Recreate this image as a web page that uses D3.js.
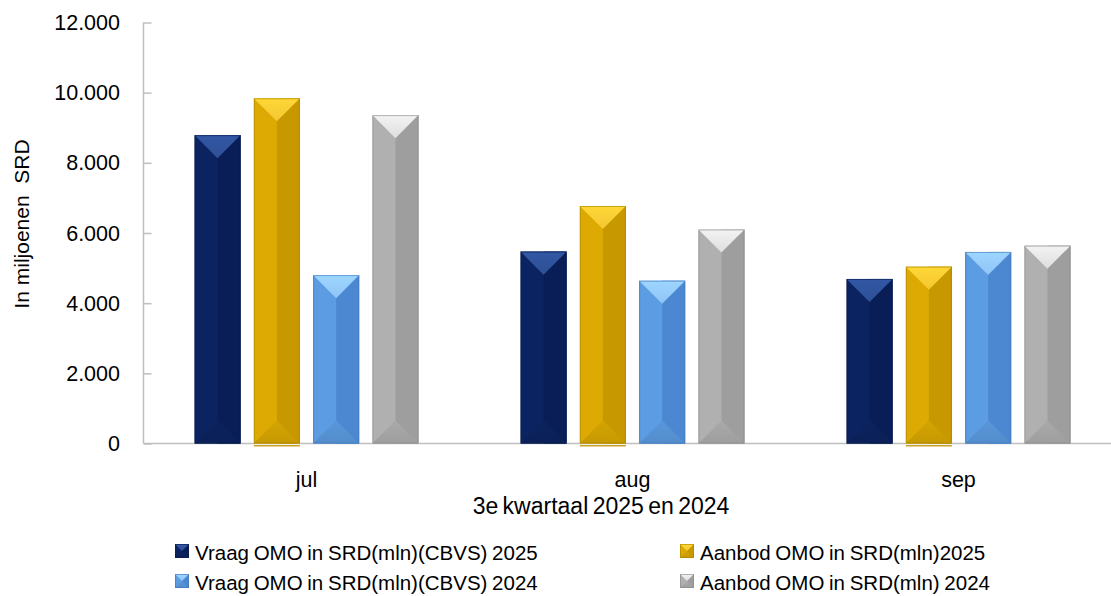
<!DOCTYPE html>
<html>
<head>
<meta charset="utf-8">
<script src="https://cdn.jsdelivr.net/npm/d3@7"></script>
<style>
  html, body { margin: 0; padding: 0; background: #ffffff; }
  svg { display: block; font-family: "Liberation Sans", Arial, sans-serif; }
  text { fill: #000; }
</style>
</head>
<body>
<svg id="chart" width="1111" height="596"></svg>
<script>
// Open market operations (OMO), third quarter, in millions SRD
const categories = ["jul", "aug", "sep"];
const seriesNames = [
  "Vraag OMO in SRD(mln)(CBVS) 2025",
  "Aanbod OMO in SRD(mln)2025",
  "Vraag OMO in SRD(mln)(CBVS) 2024",
  "Aanbod OMO in SRD(mln) 2024"
];
const vraag2025  = [8790, 5470, 4690];
const aanbod2025 = [9840, 6770, 5040];
const vraag2024  = [4800, 4640, 5460];
const aanbod2024 = [9360, 6100, 5640];
const yTicks = [0, 2000, 4000, 6000, 8000, 10000, 12000];
const yTitle = "In miljoenen  SRD";
const xTitle = "3e kwartaal 2025 en 2024";

const seriesValues = [vraag2025, aanbod2025, vraag2024, aanbod2024];
const baseColors = ["#0b2461", "#dcaa02", "#5c9ce2", "#b0b0b0"];
const topColors  = ["#2e5096", "#f3c632", "#90c4f6", "#dedede"];
const rightColors = ["#091e56", "#c89800", "#4c88d2", "#9e9e9e"];
const edgeColors = ["#081a4a", "#a98300", "#3f74b8", "#888888"];

const svg = d3.select("#chart");

const x0 = d3.scaleBand()
  .domain(categories)
  .range([143.5, 1121.5])
  .paddingInner(0.313)
  .paddingOuter(0.1565);

const x1 = d3.scaleBand()
  .domain(d3.range(seriesNames.length))
  .range([0, x0.bandwidth()])
  .paddingInner(0.223)
  .paddingOuter(0);

const y = d3.scaleLinear().domain([0, 12000]).range([443.5, 22.5]);

const fmt = v => d3.format(",")(v).replace(/,/g, ".");

// Y axis: line, inner ticks, labels
const yAxis = svg.append("g").attr("transform", "translate(143.5,0)")
  .call(d3.axisRight(y).tickValues(yTicks).tickSize(8).tickFormat(""));
yAxis.select(".domain").attr("stroke", "#bfbfbf").attr("stroke-width", 1.5)
  .attr("d", `M0,${y(12000)}V${y(0)}`);
yAxis.selectAll(".tick line").attr("stroke", "#bfbfbf").attr("stroke-width", 1.5);

svg.append("g").selectAll("text").data(yTicks).join("text")
  .attr("x", 120).attr("y", d => y(d) + 7.5)
  .attr("text-anchor", "end")
  .attr("font-size", 21.5)
  .text(fmt);

// X axis baseline
const xAxis = svg.append("g").attr("transform", `translate(0,${y(0)})`)
  .call(d3.axisBottom(x0).tickSize(0).tickFormat(""));
xAxis.select(".domain").attr("stroke", "#bfbfbf").attr("stroke-width", 1.5)
  .attr("d", "M143.5,0H1111");

svg.append("g").selectAll("text").data(categories).join("text")
  .attr("x", d => x0(d) + x0.bandwidth() / 2)
  .attr("y", 487)
  .attr("text-anchor", "middle")
  .attr("font-size", 21.5)
  .text(d => d);

svg.append("text")
  .attr("x", 601).attr("y", 514)
  .attr("text-anchor", "middle")
  .attr("font-size", 23)
  .attr("word-spacing", -2)
  .text(xTitle);

svg.append("text")
  .attr("transform", "translate(29,224) rotate(-90)")
  .attr("text-anchor", "middle")
  .attr("font-size", 21)
  .style("white-space", "pre")
  .text(yTitle);

// Bevelled bar: flat faces split at centre, triangular top and bottom facets
function bevelBar(g, x, yTop, w, h, s) {
  const d = Math.min(w / 2, h / 2);
  const yb = yTop + h;
  const cx = x + w / 2;
  g.append("rect").attr("x", x).attr("y", yTop).attr("width", w).attr("height", h)
    .attr("fill", baseColors[s]);
  g.append("rect").attr("x", cx).attr("y", yTop).attr("width", w / 2).attr("height", h)
    .attr("fill", rightColors[s]);
  g.append("path")
    .attr("d", `M${x},${yTop}L${x + w},${yTop}L${cx},${yTop + d}Z`)
    .attr("fill", `url(#top${s})`);
  g.append("path")
    .attr("d", `M${x},${yb}L${x + w},${yb}L${cx},${yb - d}Z`)
    .attr("fill", `url(#bot${s})`);
  g.append("rect").attr("x", x + 0.5).attr("y", yTop + 0.5)
    .attr("width", w - 1).attr("height", h - 1)
    .attr("fill", "none").attr("stroke", edgeColors[s]).attr("stroke-opacity", 0.6);
}

// Gradients for the facets
const defs = svg.append("defs");
baseColors.forEach((c, s) => {
  const t = defs.append("linearGradient").attr("id", `top${s}`)
    .attr("x1", 0).attr("y1", 0).attr("x2", 0).attr("y2", 1);
  t.append("stop").attr("offset", 0).attr("stop-color", d3.color(topColors[s]).brighter(0.25));
  t.append("stop").attr("offset", 1).attr("stop-color", topColors[s]);
  const b = defs.append("linearGradient").attr("id", `bot${s}`)
    .attr("x1", 0).attr("y1", 0).attr("x2", 0).attr("y2", 1);
  b.append("stop").attr("offset", 0).attr("stop-color", d3.color(baseColors[s]).darker(0.1));
  b.append("stop").attr("offset", 1).attr("stop-color", d3.color(baseColors[s]).darker(0.3));
});

const bars = svg.append("g");
categories.forEach((cat, i) => {
  seriesValues.forEach((vals, s) => {
    const bx = x0(cat) + x1(s);
    const top = y(vals[i]);
    bevelBar(bars, bx, top, x1.bandwidth(), y(0) - top, s);
    if (s === 1) {
      bars.append("rect").attr("x", bx).attr("y", y(0) + 1.5)
        .attr("width", x1.bandwidth()).attr("height", 1.5)
        .attr("fill", "#c9a227");
    }
  });
});

// Legend
const legendPos = [
  { x: 175, y: 560 }, { x: 680, y: 560 },
  { x: 175, y: 590 }, { x: 680, y: 590 }
];
const legend = svg.append("g");
seriesNames.forEach((name, s) => {
  const p = legendPos[s];
  const g = legend.append("g");
  bevelBar(g, p.x, p.y - 16, 14, 14, s);
  g.append("text").attr("x", p.x + 20).attr("y", p.y)
    .attr("font-size", 20.5)
    .attr("word-spacing", -1)
    .text(name);
});
</script>
</body>
</html>
